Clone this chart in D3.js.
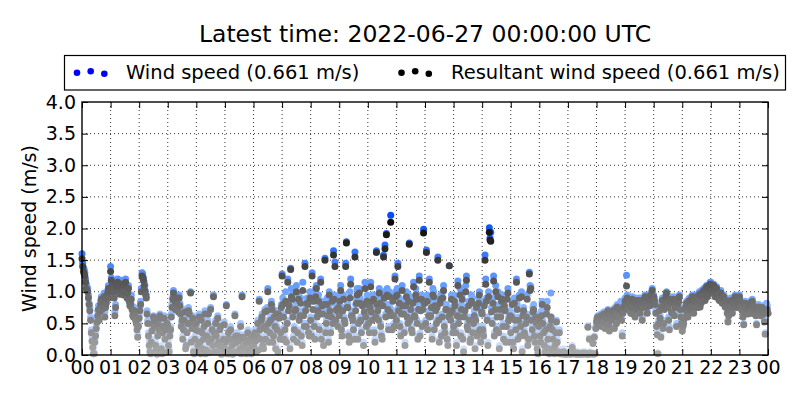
<!DOCTYPE html>
<html>
<head>
<meta charset="utf-8">
<script src="https://cdn.jsdelivr.net/npm/d3@7"></script>
<style>
  body { margin: 0; background: #fff; }
  svg { font-family: "DejaVu Sans", sans-serif; }
</style>
</head>
<body>
<div id="chart"></div>
<script>
// samples every 3 minutes (A) plus the ones half way between (B),
// 2022-06-26 00:00 -> 2022-06-27 00:00 UTC
const stepMinutes = 3;
const titleText = "Latest time: 2022-06-27 00:00:00 UTC";
const seriesNames = ["Wind speed (0.661 m/s)", "Resultant wind speed (0.661 m/s)"];
const xTickLabels = ["00","01","02","03","04","05","06","07","08","09","10","11","12",
  "13","14","15","16","17","18","19","20","21","22","23","00"];
const yTicks = [0, 0.5, 1.0, 1.5, 2.0, 2.5, 3.0, 3.5, 4.0];

const windSpeedA = [
  1.60,1.38,1.30,1.12,1.05,0.82,0.60,0.30,0.12,0.25,0.48,0.70,0.58,0.85,0.80,0.92,0.68,0.88,1.02,0.95,
  1.40,1.15,1.05,0.68,1.12,1.20,1.05,1.10,1.18,0.98,1.15,1.08,1.02,0.90,0.85,0.78,0.65,0.70,0.55,0.32,
  0.62,0.85,1.30,1.22,1.10,0.95,0.55,0.22,0.05,0.42,0.62,0.58,0.12,0.35,0.45,0.60,0.05,0.50,0.30,0.42,
  0.48,0.10,0.45,0.80,1.02,0.90,0.75,0.85,0.95,0.70,0.60,0.45,0.72,0.20,0.55,0.68,1.00,0.45,0.10,0.30,
  0.55,0.20,0.65,0.05,0.40,0.30,0.70,0.12,0.55,0.25,0.75,0.45,0.95,0.10,0.35,0.62,0.20,0.48,0.05,0.30,
  0.15,0.80,0.30,0.05,0.45,0.20,0.10,0.65,0.25,0.35,0.08,0.50,0.95,0.20,0.30,0.05,0.40,0.15,0.25,0.35,
  0.20,0.40,0.10,0.55,0.88,0.30,0.65,0.15,0.72,0.45,1.05,0.25,0.60,0.78,0.35,0.50,0.70,0.10,0.62,0.40,
  1.28,0.65,0.45,0.25,1.20,0.85,1.37,0.95,0.30,0.75,1.10,0.40,0.60,0.90,0.20,0.70,1.45,0.50,0.85,0.35,
  0.60,1.30,0.95,0.30,1.10,0.75,0.45,1.20,0.85,0.20,1.53,0.55,0.70,1.00,0.40,0.90,1.65,1.47,0.80,0.50,
  0.70,1.10,0.35,0.95,0.55,1.79,0.80,0.25,1.20,0.65,0.45,1.63,0.90,0.30,1.05,0.60,0.85,0.20,1.15,0.50,
  0.85,0.40,1.15,0.60,0.95,0.25,1.65,0.75,1.05,0.50,0.30,1.58,1.74,1.92,0.80,1.00,2.21,0.45,0.70,1.25,
  0.60,1.45,0.90,0.35,1.10,0.70,0.20,1.00,0.55,1.77,0.80,0.40,1.15,0.65,0.95,0.30,1.25,0.75,0.50,1.99,
  0.90,1.66,0.45,1.20,0.70,0.30,1.00,0.85,0.55,1.55,0.25,0.95,0.65,1.10,0.40,0.80,0.20,1.41,0.60,0.75,
  0.50,0.85,0.20,1.17,0.65,0.35,0.95,0.10,0.75,1.25,0.45,0.60,0.30,0.90,0.55,0.15,0.80,0.40,1.00,0.25,
  0.70,0.35,1.58,0.90,0.20,2.01,1.94,0.55,1.25,0.80,0.45,1.00,0.15,0.65,0.95,0.30,0.75,0.50,1.05,0.25,
  0.40,0.85,0.15,0.60,1.20,0.30,0.95,0.50,0.10,0.75,0.35,0.65,0.20,1.31,1.08,0.45,0.80,0.25,0.55,0.05,
  0.60,0.25,0.85,0.40,0.10,0.70,0.30,0.05,0.98,0.45,0.15,0.20,0.55,0.08,0.40,0.05,0.03,0.10,0.04,0.02,
  0.03,0.05,0.02,0.15,0.04,0.03,0.02,0.05,0.03,0.04,0.02,0.03,0.05,0.02,0.46,0.27,0.03,0.04,0.02,0.03,
  0.55,0.62,0.50,0.65,0.58,0.68,0.45,0.60,0.72,0.40,0.66,0.70,0.62,0.75,0.55,0.78,0.68,0.85,0.35,0.80,
  0.90,1.26,0.75,0.85,0.70,0.92,0.80,0.65,0.88,0.78,0.90,0.82,0.60,0.86,0.95,0.80,0.88,0.92,0.98,1.05,
  0.95,0.85,0.48,0.03,0.75,0.31,0.90,0.55,0.82,1.00,0.78,0.45,0.88,0.70,0.92,0.80,0.50,0.85,0.95,0.65,
  0.40,0.55,0.75,0.85,0.65,0.90,0.80,0.95,0.70,0.88,0.92,0.78,1.00,0.85,0.95,1.05,0.90,1.10,1.00,1.12,
  1.15,1.05,1.12,0.95,1.08,1.00,0.90,1.02,0.85,0.95,0.80,0.88,0.55,0.75,0.90,0.70,0.85,0.95,0.78,0.88,
  0.95,0.80,0.72,0.50,0.85,0.78,0.68,0.82,0.75,0.88,0.70,0.80,0.50,0.76,0.72,0.65,0.78,0.70,0.35,0.82,
  0.661
];

const windSpeedB = [
  1.45,1.35,1.20,1.08,0.95,0.75,0.40,0.18,0.05,0.35,0.60,0.78,0.72,0.92,0.85,0.98,0.80,0.95,1.10,1.05,
  1.22,1.10,0.95,0.80,1.18,1.12,1.00,1.15,1.08,1.05,1.20,0.95,1.10,0.82,0.95,0.68,0.75,0.60,0.45,0.50,
  0.75,1.05,1.28,1.15,1.00,0.70,0.35,0.10,0.25,0.55,0.48,0.20,0.02,0.52,0.65,0.15,0.40,0.62,0.08,0.55,
  0.20,0.35,0.65,0.92,0.80,0.78,0.95,0.72,0.82,0.50,0.30,0.60,0.15,0.40,0.75,0.55,0.25,0.62,0.05,0.45,
  0.10,0.42,0.25,0.60,0.15,0.50,0.05,0.35,0.68,0.08,0.30,0.20,0.40,0.55,0.10,0.25,0.45,0.02,0.18,0.52,
  0.25,0.05,0.40,0.12,0.30,0.02,0.22,0.35,0.10,0.28,0.15,0.05,0.32,0.18,0.08,0.25,0.12,0.30,0.05,0.20,
  0.08,0.28,0.35,0.12,0.45,0.60,0.20,0.50,0.30,0.75,0.55,0.40,0.85,0.25,0.65,0.15,0.45,0.70,0.30,0.80,
  0.90,0.30,1.00,0.55,0.80,0.15,1.05,0.65,0.45,0.85,0.25,0.95,0.70,0.35,1.15,0.50,0.80,0.90,0.40,1.00,
  0.35,0.85,0.50,1.05,0.65,0.95,0.70,0.30,0.75,0.85,0.40,0.90,0.25,0.80,0.65,0.55,0.95,0.60,0.75,0.85,
  0.95,0.45,0.75,0.60,1.45,0.85,0.35,1.00,0.70,0.60,0.30,0.80,1.05,0.55,0.90,0.40,0.85,0.75,0.65,0.95,
  0.55,0.80,0.75,0.95,0.40,0.65,0.90,0.60,0.90,0.35,0.85,1.00,0.65,1.05,0.45,0.75,0.70,0.95,0.50,1.00,
  1.05,0.75,0.50,0.70,0.85,0.40,0.85,0.65,0.95,0.60,0.45,0.90,0.70,1.05,0.55,0.80,0.35,0.95,0.80,0.90,
  0.55,0.95,0.70,0.65,0.85,1.05,0.45,0.75,0.80,0.60,0.90,0.35,1.00,0.50,0.80,0.30,0.65,0.70,0.95,0.40,
  0.95,0.40,0.70,0.55,1.05,0.80,0.30,0.65,1.10,0.50,0.85,0.25,0.95,0.40,0.70,0.60,0.35,0.90,0.45,0.75,
  0.45,0.85,1.20,0.60,1.00,1.85,0.75,0.90,0.35,1.10,0.65,0.40,0.80,0.95,0.50,0.85,0.25,0.95,0.60,0.70,
  0.65,0.25,0.90,0.45,0.80,0.60,0.35,1.00,0.70,0.40,0.55,0.95,0.30,1.10,0.60,0.75,0.35,0.65,0.15,0.50,
  0.35,0.70,0.55,0.20,0.45,0.85,0.15,0.50,0.60,0.30,0.05,0.40,0.25,0.10,0.04,0.03,0.05,0.02,0.03,0.04,
  0.04,0.03,0.06,0.08,0.03,0.05,0.04,0.02,0.04,0.03,0.05,0.04,0.03,0.04,0.02,0.05,0.03,0.20,0.30,0.45,
  0.60,0.52,0.58,0.48,0.65,0.55,0.62,0.70,0.50,0.66,0.58,0.72,0.45,0.68,0.80,0.62,0.75,0.58,0.70,0.82,
  0.82,0.95,0.88,0.72,0.80,0.68,0.85,0.90,0.75,0.82,0.70,0.88,0.78,0.92,0.85,0.70,0.95,0.82,0.90,0.88,
  0.90,0.70,0.35,0.55,0.62,0.80,0.45,0.75,0.95,0.85,0.60,0.92,0.72,0.85,0.66,0.90,0.78,0.88,0.75,0.55,
  0.48,0.62,0.80,0.70,0.88,0.75,0.92,0.82,0.78,0.95,0.85,0.90,0.80,1.02,0.88,0.98,1.05,0.95,1.08,1.15,
  1.10,1.12,1.00,1.05,0.98,0.92,0.95,0.88,0.92,0.85,0.90,0.70,0.65,0.82,0.78,0.80,0.92,0.85,0.82,0.90,
  0.88,0.75,0.62,0.70,0.80,0.72,0.78,0.85,0.70,0.82,0.75,0.65,0.68,0.80,0.70,0.74,0.66,0.55,0.72,0.78
];

const resultantA = [
  1.52,1.32,1.25,1.05,1.00,0.80,0.55,0.22,0.02,0.20,0.42,0.62,0.55,0.80,0.72,0.85,0.60,0.82,0.98,0.90,
  1.32,1.10,1.00,0.62,1.08,1.15,1.00,1.05,1.12,0.95,1.10,1.00,0.98,0.85,0.80,0.72,0.60,0.62,0.50,0.28,
  0.58,0.80,1.25,1.18,1.02,0.90,0.50,0.15,0.02,0.38,0.60,0.55,0.08,0.30,0.40,0.58,0.02,0.45,0.25,0.40,
  0.45,0.05,0.40,0.75,0.98,0.85,0.72,0.80,0.90,0.65,0.55,0.40,0.68,0.15,0.50,0.65,0.98,0.42,0.05,0.25,
  0.50,0.15,0.60,0.02,0.35,0.25,0.65,0.08,0.50,0.20,0.72,0.40,0.92,0.05,0.30,0.58,0.15,0.45,0.02,0.25,
  0.10,0.78,0.25,0.02,0.40,0.15,0.05,0.62,0.20,0.30,0.03,0.45,0.92,0.15,0.25,0.02,0.35,0.10,0.20,0.30,
  0.15,0.35,0.05,0.50,0.85,0.25,0.60,0.10,0.68,0.40,1.00,0.20,0.55,0.72,0.30,0.45,0.65,0.05,0.58,0.35,
  1.25,0.60,0.40,0.20,1.15,0.78,1.35,0.88,0.25,0.70,1.00,0.35,0.55,0.82,0.15,0.62,1.40,0.45,0.80,0.30,
  0.55,1.25,0.85,0.25,1.05,0.70,0.40,1.15,0.78,0.15,1.50,0.50,0.62,0.95,0.35,0.85,1.58,1.40,0.72,0.45,
  0.62,1.02,0.30,0.88,0.50,1.77,0.75,0.20,1.12,0.60,0.40,1.55,0.82,0.25,0.98,0.55,0.78,0.15,1.05,0.45,
  0.80,0.35,1.08,0.55,0.88,0.20,1.62,0.70,0.98,0.45,0.25,1.55,1.68,1.90,0.72,0.92,2.10,0.40,0.62,1.20,
  0.55,1.40,0.82,0.30,1.02,0.65,0.15,0.92,0.50,1.75,0.72,0.35,1.08,0.60,0.88,0.25,1.18,0.70,0.45,1.93,
  0.82,1.62,0.40,1.15,0.62,0.25,0.92,0.78,0.50,1.50,0.20,0.88,0.60,1.02,0.35,0.72,0.15,1.41,0.55,0.70,
  0.45,0.78,0.15,1.10,0.60,0.30,0.88,0.05,0.70,1.18,0.40,0.55,0.25,0.82,0.50,0.10,0.75,0.35,0.95,0.20,
  0.65,0.30,1.50,0.85,0.15,1.94,1.80,0.50,1.17,0.72,0.40,0.92,0.10,0.60,0.88,0.25,0.70,0.45,0.98,0.20,
  0.35,0.80,0.10,0.55,1.15,0.25,0.90,0.45,0.05,0.70,0.30,0.60,0.15,1.28,1.05,0.40,0.72,0.20,0.50,0.02,
  0.55,0.20,0.80,0.35,0.05,0.65,0.25,0.02,0.60,0.40,0.10,0.15,0.52,0.03,0.35,0.02,0.02,0.05,0.02,0.01,
  0.02,0.03,0.01,0.12,0.02,0.02,0.01,0.03,0.02,0.02,0.01,0.02,0.03,0.01,0.44,0.25,0.02,0.02,0.01,0.02,
  0.52,0.60,0.48,0.62,0.55,0.65,0.42,0.58,0.70,0.38,0.62,0.66,0.60,0.72,0.50,0.74,0.62,0.72,0.30,0.76,
  0.85,1.09,0.72,0.82,0.66,0.88,0.76,0.60,0.85,0.75,0.86,0.78,0.55,0.82,0.92,0.76,0.85,0.88,0.95,1.02,
  0.92,0.80,0.45,0.02,0.70,0.28,0.86,0.50,0.78,0.98,0.75,0.40,0.85,0.66,0.88,0.76,0.45,0.82,0.92,0.60,
  0.38,0.50,0.72,0.82,0.60,0.86,0.76,0.92,0.66,0.85,0.88,0.75,0.96,0.82,0.92,1.02,0.86,1.08,0.96,1.10,
  1.12,1.02,1.10,0.92,1.05,0.96,0.86,0.98,0.82,0.92,0.76,0.85,0.52,0.72,0.86,0.66,0.82,0.92,0.75,0.85,
  0.92,0.76,0.70,0.48,0.82,0.75,0.65,0.78,0.72,0.85,0.66,0.76,0.48,0.72,0.70,0.62,0.75,0.68,0.33,0.70,
  0.661
];

const resultantB = [
  1.40,1.28,1.15,1.02,0.90,0.70,0.35,0.12,0.02,0.30,0.52,0.72,0.68,0.88,0.78,0.92,0.75,0.90,1.05,1.00,
  1.18,1.05,0.90,0.75,1.12,1.08,0.96,1.10,1.02,1.00,1.15,0.90,1.05,0.78,0.88,0.62,0.70,0.55,0.40,0.45,
  0.70,1.00,1.22,1.10,0.95,0.65,0.30,0.05,0.20,0.50,0.45,0.15,0.01,0.48,0.62,0.10,0.35,0.58,0.04,0.50,
  0.15,0.30,0.60,0.88,0.75,0.72,0.90,0.68,0.78,0.45,0.25,0.55,0.10,0.35,0.70,0.50,0.20,0.58,0.02,0.40,
  0.05,0.38,0.20,0.55,0.10,0.45,0.02,0.30,0.65,0.04,0.25,0.15,0.35,0.50,0.05,0.20,0.40,0.01,0.12,0.48,
  0.20,0.02,0.35,0.08,0.25,0.01,0.18,0.30,0.05,0.22,0.10,0.02,0.28,0.12,0.04,0.20,0.08,0.25,0.02,0.15,
  0.05,0.22,0.30,0.08,0.40,0.55,0.15,0.45,0.25,0.70,0.50,0.35,0.80,0.20,0.60,0.10,0.40,0.65,0.25,0.75,
  0.80,0.25,0.85,0.50,0.70,0.10,0.92,0.60,0.40,0.72,0.20,0.88,0.62,0.30,1.02,0.45,0.70,0.82,0.35,0.90,
  0.30,0.72,0.45,0.92,0.60,0.85,0.65,0.25,0.65,0.80,0.35,0.80,0.20,0.70,0.60,0.50,0.88,0.55,0.70,0.75,
  0.85,0.40,0.70,0.55,1.40,0.75,0.30,0.90,0.62,0.55,0.25,0.70,0.95,0.50,0.82,0.35,0.80,0.68,0.60,0.85,
  0.50,0.75,0.68,0.85,0.35,0.60,0.80,0.55,0.82,0.30,0.78,0.90,0.60,0.95,0.40,0.68,0.62,0.85,0.45,0.92,
  0.95,0.70,0.45,0.65,0.78,0.35,0.78,0.60,0.85,0.55,0.40,0.82,0.62,0.95,0.50,0.72,0.30,0.88,0.72,0.82,
  0.50,0.85,0.62,0.60,0.75,0.95,0.40,0.70,0.75,0.55,0.82,0.30,0.90,0.45,0.72,0.25,0.60,0.65,0.88,0.35,
  0.85,0.35,0.62,0.50,0.95,0.72,0.25,0.60,1.00,0.45,0.78,0.20,0.85,0.35,0.62,0.55,0.30,0.82,0.40,0.68,
  0.40,0.78,1.12,0.55,0.92,1.82,0.68,0.82,0.30,1.00,0.60,0.35,0.72,0.85,0.45,0.78,0.20,0.88,0.55,0.62,
  0.60,0.20,0.82,0.40,0.72,0.55,0.30,0.92,0.62,0.35,0.50,0.88,0.25,1.02,0.55,0.68,0.30,0.60,0.10,0.45,
  0.30,0.62,0.50,0.15,0.40,0.75,0.10,0.45,0.55,0.25,0.02,0.35,0.20,0.05,0.02,0.02,0.03,0.01,0.02,0.02,
  0.02,0.02,0.04,0.06,0.02,0.03,0.02,0.01,0.02,0.02,0.03,0.02,0.02,0.02,0.01,0.03,0.02,0.18,0.28,0.42,
  0.58,0.50,0.55,0.45,0.62,0.52,0.60,0.66,0.48,0.62,0.55,0.70,0.42,0.65,0.76,0.60,0.72,0.55,0.66,0.78,
  0.78,0.90,0.85,0.70,0.76,0.65,0.82,0.86,0.72,0.78,0.66,0.85,0.75,0.88,0.82,0.66,0.92,0.78,0.86,0.85,
  0.86,0.66,0.32,0.50,0.58,0.76,0.42,0.72,0.92,0.82,0.55,0.88,0.68,0.82,0.62,0.86,0.75,0.85,0.72,0.50,
  0.45,0.58,0.76,0.66,0.85,0.72,0.88,0.78,0.75,0.92,0.82,0.86,0.76,0.98,0.85,0.95,1.02,0.92,1.05,1.12,
  1.08,1.10,0.96,1.02,0.95,0.88,0.92,0.85,0.88,0.82,0.86,0.66,0.62,0.78,0.75,0.76,0.88,0.82,0.78,0.86,
  0.85,0.72,0.60,0.66,0.76,0.70,0.75,0.82,0.66,0.78,0.72,0.62,0.65,0.76,0.68,0.70,0.64,0.52,0.68,0.72
];

const width = 800, height = 400;
const margin = { top: 102, right: 32, bottom: 45, left: 82 };
const plotW = width - margin.left - margin.right,
  plotH = height - margin.top - margin.bottom;

const svg = d3.select("#chart")
  .append("svg")
  .attr("width", width)
  .attr("height", height);

const x = d3.scaleLinear().domain([0, 24]).range([0, plotW]);
const y = d3.scaleLinear().domain([0, 4]).range([plotH, 0]);

// darker / stronger colour for higher speeds
const blueColor = d3.scaleLinear().domain([0, 1.0, 2.2])
  .range(["#dde9ff", "#6ea4ff", "#004cff"]).clamp(true);
const grayColor = d3.scaleLinear().domain([0, 1.0, 2.2])
  .range(["#a8a8a8", "#626262", "#000000"]).clamp(true);

function toPoints(a, b) {
  var pts = a.map((v, i) => ({ h: i * stepMinutes / 60, v: v }));
  b.forEach((v, i) => pts.push({ h: (i + 0.5) * stepMinutes / 60, v: v }));
  return pts.sort((p, q) => p.h - q.h);
}
const wsPoints = toPoints(windSpeedA, windSpeedB);
const rwsPoints = toPoints(resultantA, resultantB);

// title
svg.append("text")
  .attr("x", margin.left + plotW / 2)
  .attr("y", 42)
  .attr("text-anchor", "middle")
  .style("font-size", "23.5px")
  .text(titleText);

// legend
const legend = svg.append("g");
legend.append("rect")
  .attr("x", 64.5).attr("y", 55.5)
  .attr("width", 721).attr("height", 34.5)
  .attr("fill", "#fff").attr("stroke", "#000").attr("stroke-width", 1.2);
const legendDots = [[77, 72.7], [90.7, 71.3], [104.3, 73.7]];
[{ c: "#0000ff", dx: 0, tx: 126 }, { c: "#000000", dx: 324.5, tx: 451 }].forEach(function (s, i) {
  legend.selectAll(null)
    .data(legendDots)
    .join("circle")
    .attr("cx", d => d[0] + s.dx)
    .attr("cy", d => d[1])
    .attr("r", 3.3)
    .attr("fill", s.c);
  legend.append("text")
    .attr("x", s.tx).attr("y", 78.5)
    .style("font-size", "19.5px")
    .text(seriesNames[i]);
});

const g = svg.append("g").attr("transform", `translate(${margin.left}, ${margin.top})`);

// dotted grid
g.append("g")
  .selectAll("line")
  .data(d3.range(1, 24))
  .join("line")
  .attr("x1", d => x(d)).attr("x2", d => x(d))
  .attr("y1", 0).attr("y2", plotH)
  .attr("stroke", "#000").attr("stroke-width", 0.8)
  .attr("stroke-dasharray", "1,3");
g.append("g")
  .selectAll("line")
  .data(yTicks.slice(1, -1))
  .join("line")
  .attr("x1", 0).attr("x2", plotW)
  .attr("y1", d => y(d)).attr("y2", d => y(d))
  .attr("stroke", "#000").attr("stroke-width", 0.8)
  .attr("stroke-dasharray", "1,3");

const points = g.append("g");
points.selectAll(".ws")
  .data(wsPoints)
  .join("circle")
  .attr("class", "ws")
  .attr("cx", d => x(d.h))
  .attr("cy", d => y(d.v))
  .attr("r", 3.5)
  .attr("fill", d => blueColor(d.v));
points.selectAll(".rws")
  .data(rwsPoints)
  .join("circle")
  .attr("class", "rws")
  .attr("cx", d => x(d.h))
  .attr("cy", d => y(d.v))
  .attr("r", 3.5)
  .attr("fill", d => grayColor(d.v));

// axes, ticks pointing inwards on all four sides
const hours = d3.range(25);
const xAxis = d3.axisBottom(x).tickValues(hours)
  .tickFormat(d => xTickLabels[d]).tickSizeInner(-6).tickSizeOuter(0).tickPadding(6);
const yAxis = d3.axisLeft(y).tickValues(yTicks)
  .tickFormat(d3.format(".1f")).tickSizeInner(-6).tickSizeOuter(0).tickPadding(6);

const xg = g.append("g").attr("transform", `translate(0, ${plotH})`).call(xAxis);
const yg = g.append("g").call(yAxis);
g.append("g").call(d3.axisTop(x).tickValues(hours).tickFormat("").tickSizeInner(-6).tickSizeOuter(0));
g.append("g").attr("transform", `translate(${plotW}, 0)`)
  .call(d3.axisRight(y).tickValues(yTicks).tickFormat("").tickSizeInner(-6).tickSizeOuter(0));

g.selectAll(".domain").remove();
g.selectAll(".tick line").attr("stroke", "#000").attr("stroke-width", 1);
[xg, yg].forEach(a => a.selectAll("text")
  .style("font-size", "19px")
  .style("font-family", "'DejaVu Sans', sans-serif")
  .attr("fill", "#000"));

// frame
g.append("rect")
  .attr("width", plotW).attr("height", plotH)
  .attr("fill", "none").attr("stroke", "#000").attr("stroke-width", 1.4);

// y label
svg.append("text")
  .attr("transform", `translate(36, ${margin.top + plotH / 2}) rotate(-90)`)
  .attr("text-anchor", "middle")
  .style("font-size", "19px")
  .text("Wind speed (m/s)");
</script>
</body>
</html>
